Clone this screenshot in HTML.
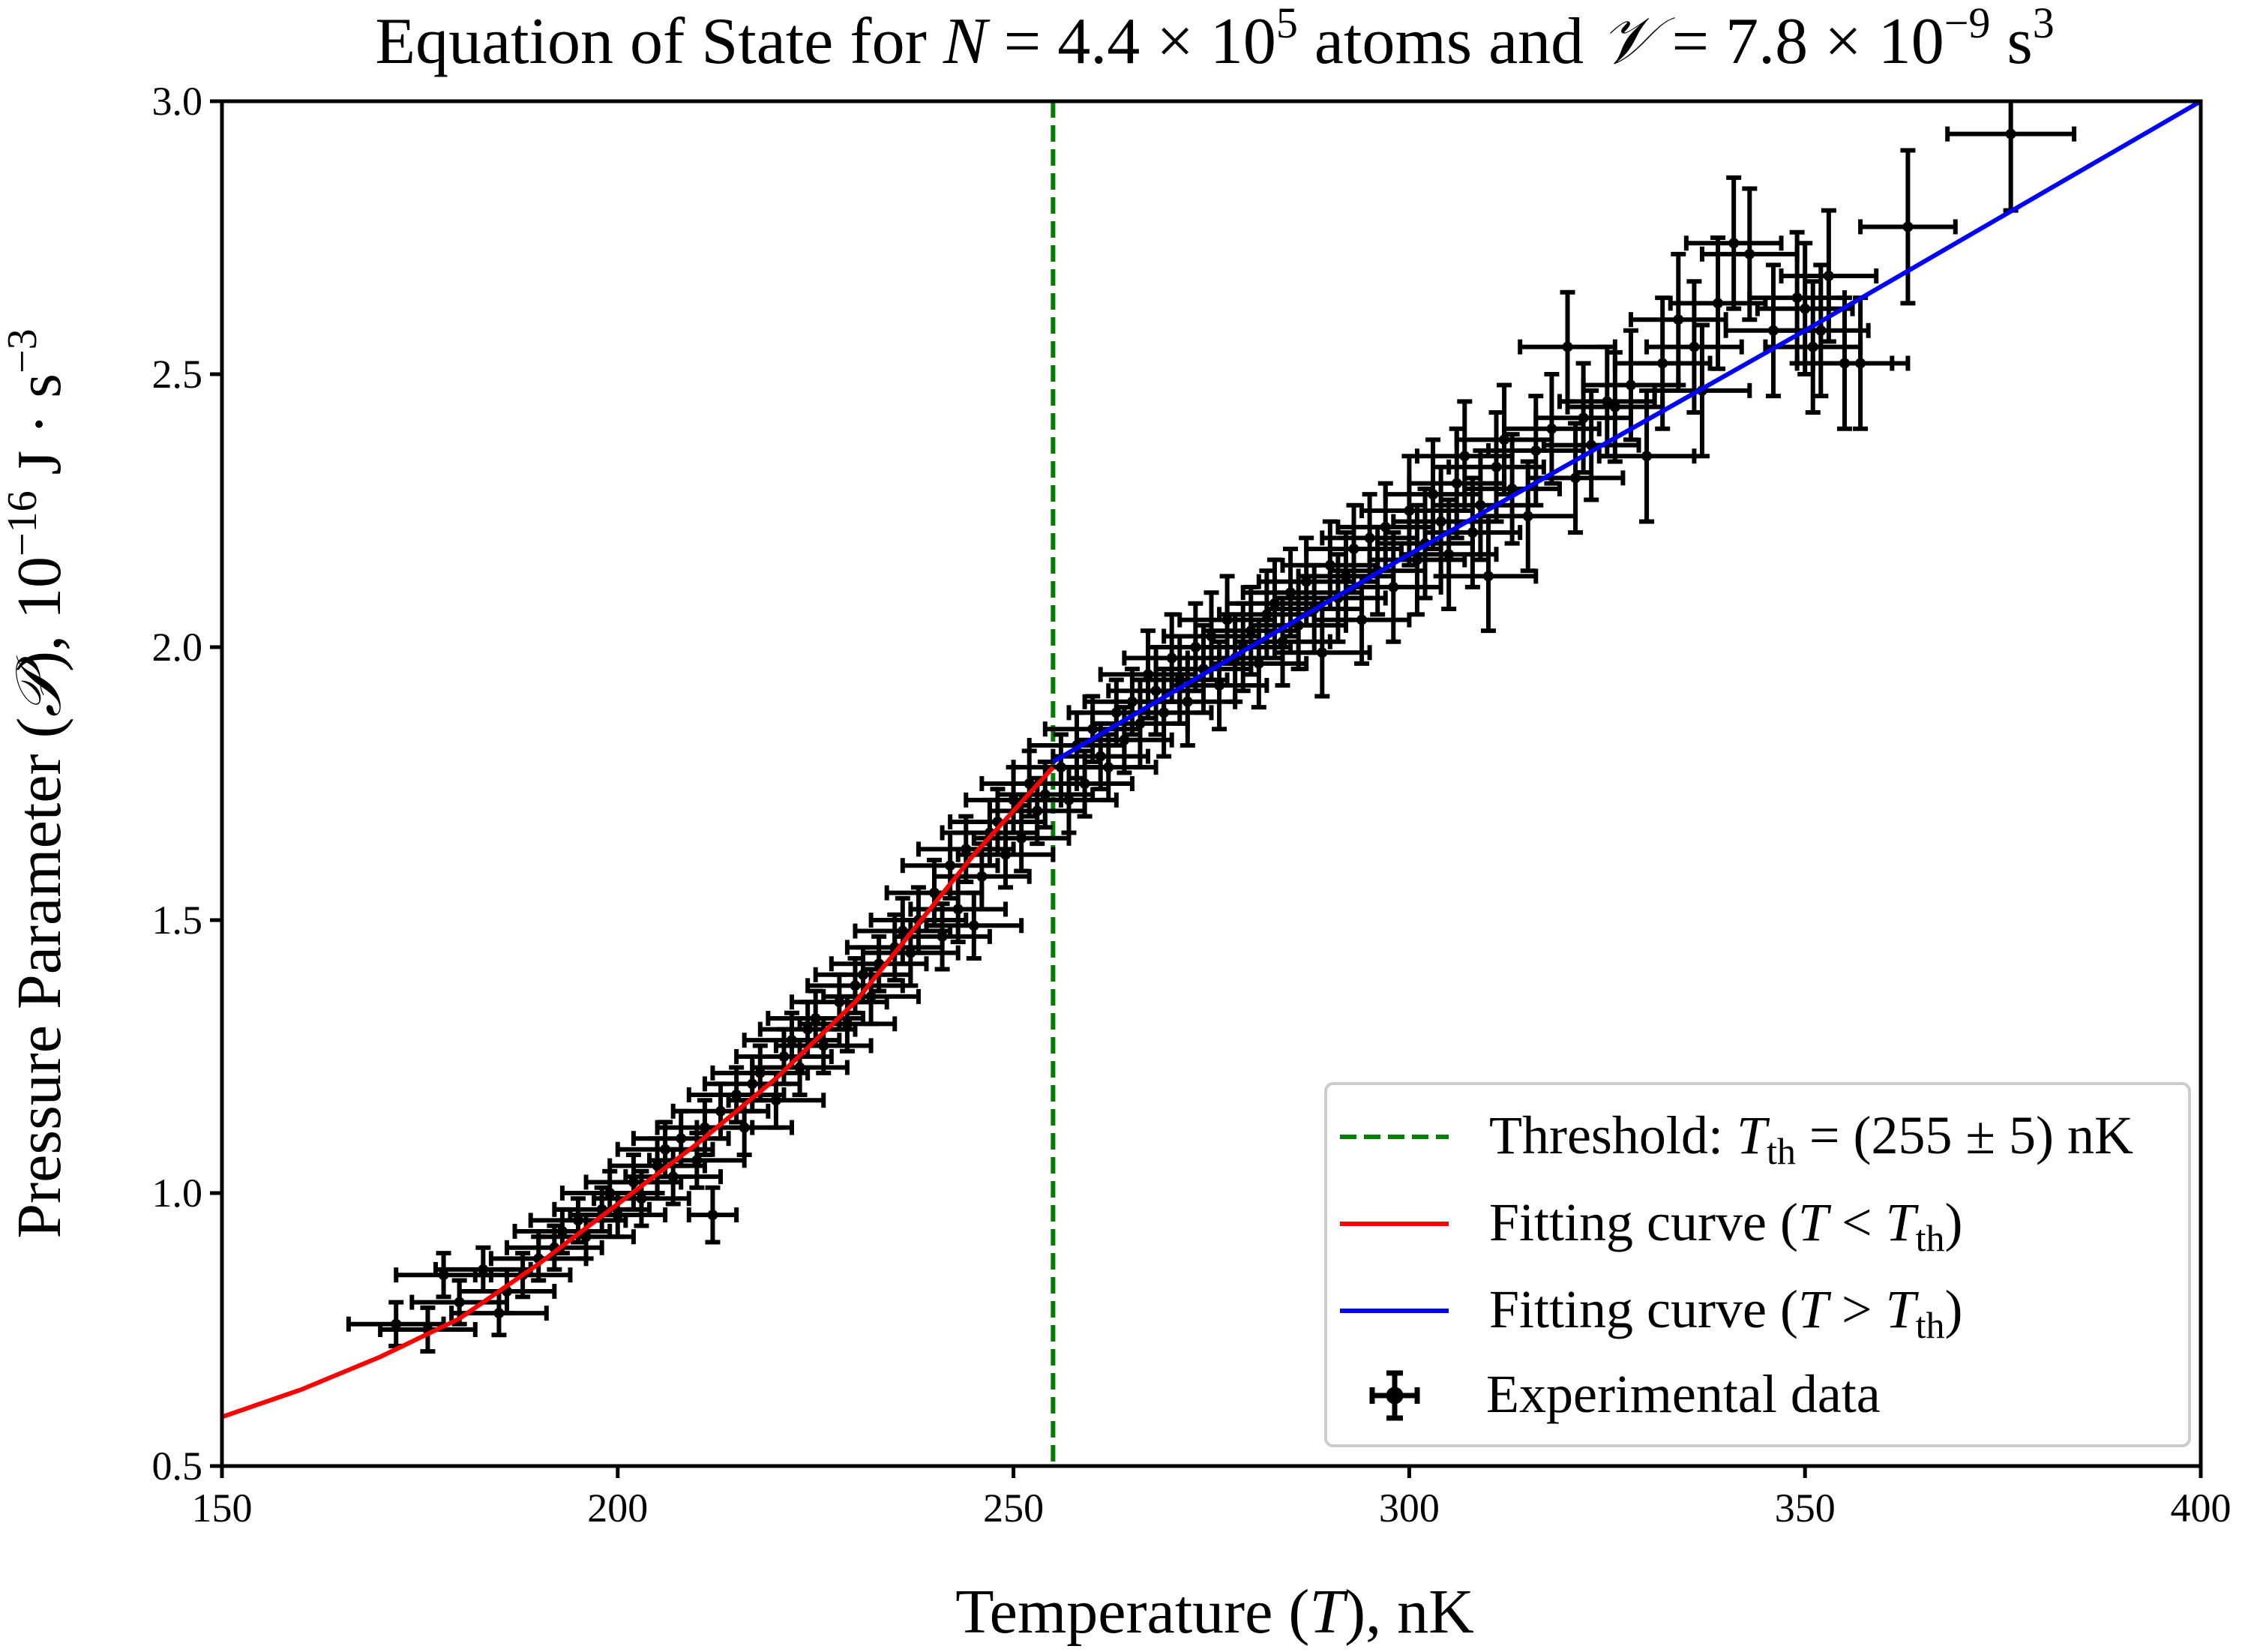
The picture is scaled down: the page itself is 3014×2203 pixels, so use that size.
<!DOCTYPE html>
<html><head><meta charset="utf-8"><style>
html,body{margin:0;padding:0;background:#fff}
svg{display:block;font-family:"Liberation Serif",serif}
</style></head><body>
<svg id="chart" width="3014" height="2203" viewBox="0 0 3014 2203">
<defs><clipPath id="clip"><rect x="296" y="135" width="2639" height="1820"/></clipPath></defs>
<g id="plot" clip-path="url(#clip)"></g>
</svg>
<script>
const xTicks=[150,200,250,300,350,400];
const yTicks=[0.5,1.0,1.5,2.0,2.5,3.0];
const yTickLabels=["0.5","1.0","1.5","2.0","2.5","3.0"];
const threshold=255;
const redT=[150,160,170,180,190,200,210,220,230,240,245,250,255];
const redP=[0.59,0.64,0.70,0.77,0.87,0.98,1.09,1.21,1.35,1.53,1.62,1.70,1.78];
const blueT=[255,300,350,400];
const blueP=[1.79,2.17,2.58,3.0];
const dataT=[172,176,178,180,183,185,186,188,190,192,
193,195,196,198,199,200,202,203,205,206,
207,208,210,211,212,213,215,216,217,218,
220,221,222,223,224,225,226,228,229,230,
231,232,233,235,236,237,238,240,241,242,
243,244,245,246,247,248,249,250,251,252,
253,254,
256,257,258,259,260,261,262,263,264,265,
266,267,268,269,270,271,272,273,274,275,
276,277,278,279,280,281,282,283,284,285,
286,287,288,289,290,291,292,293,294,295,
296,297,298,300,301,302,303,304,305,306,
307,308,309,310,311,312,313,315,316,318,
320,321,322,323,325,326,328,330,332,334,
336,337,339,341,343,346,349,350,351,352,
353,355,357,363,376];
const dataP=[0.76,0.75,0.85,0.80,0.86,0.78,0.82,0.85,0.88,0.90,
0.93,0.95,0.92,0.97,1.00,0.96,1.02,0.99,1.05,1.08,
1.03,1.10,1.06,1.12,0.96,1.15,1.18,1.12,1.20,1.22,
1.17,1.25,1.28,1.23,1.30,1.32,1.27,1.35,1.31,1.38,
1.40,1.36,1.42,1.45,1.48,1.44,1.50,1.55,1.47,1.60,
1.52,1.63,1.49,1.58,1.66,1.68,1.62,1.72,1.65,1.75,
1.70,1.73,
1.78,1.72,1.82,1.75,1.85,1.80,1.78,1.88,1.83,1.90,
1.86,1.95,1.92,1.88,1.98,1.94,1.90,2.00,1.96,2.02,
1.93,2.05,1.98,2.00,2.03,1.97,2.06,2.08,2.01,2.10,
2.04,2.12,2.07,1.99,2.15,2.09,2.13,2.18,2.05,2.20,
2.14,2.22,2.11,2.25,2.16,2.19,2.28,2.23,2.17,2.30,
2.35,2.21,2.26,2.13,2.33,2.38,2.29,2.24,2.36,2.40,
2.55,2.31,2.42,2.37,2.45,2.44,2.48,2.35,2.52,2.60,
2.55,2.47,2.63,2.74,2.72,2.58,2.64,2.62,2.55,2.58,
2.68,2.52,2.52,2.77,2.94];
const dataXErr=dataT.map(t=>t===212?3:(t>=370?8:6));
const dataYErr=dataT.map(t=>[0.04,0.05,0.06,0.08,0.1,0.12,0.14][Math.min(6,Math.floor((t-170)/32))]);

const L=296,R=2935,T0=135,B=1955;
const sx=v=>L+(v-150)/(400-150)*(R-L);
const sy=v=>B-(v-0.5)/(3.0-0.5)*(B-T0);
const NS="http://www.w3.org/2000/svg";
const svg=document.getElementById('chart');
const plot=document.getElementById('plot');
function mk(tag,attrs,parent){const e=document.createElementNS(NS,tag);for(const k in attrs)e.setAttribute(k,attrs[k]);(parent||svg).appendChild(e);return e;}

let th=mk('line',{x1:sx(threshold),x2:sx(threshold),y1:T0,y2:B,stroke:'#008000','stroke-width':6,'stroke-dasharray':'22,10'},plot);



const dg=mk('g',{stroke:'#000','stroke-width':6,fill:'#000'},plot);


dataT.forEach((t,i)=>{
 const g=mk('g',{},dg);
 
 
 const x=sx(t),y=sy(dataP[i]),x1=sx(t-dataXErr[i]),x2=sx(t+dataXErr[i]),y1=sy(dataP[i]+dataYErr[i]),y2=sy(dataP[i]-dataYErr[i]);
 mk('line',{x1:x1,x2:x2,y1:y,y2:y},g);
 mk('line',{x1:x,x2:x,y1:y1,y2:y2},g);
 mk('line',{x1:x1,x2:x1,y1:y-10,y2:y+10},g);
 mk('line',{x1:x2,x2:x2,y1:y-10,y2:y+10},g);
 mk('line',{x1:x-10,x2:x+10,y1:y1,y2:y1},g);
 mk('line',{x1:x-10,x2:x+10,y1:y2,y2:y2},g);
 mk('circle',{cx:x,cy:y,r:7,stroke:'none'},g);
});

function smooth(ts,ps){return ts.map((t,i)=>(i?'L':'M')+sx(t).toFixed(1)+','+sy(ps[i]).toFixed(1)).join(' ');}
let red=mk('path',{d:smooth(redT,redP),fill:'none',stroke:'#ff0000','stroke-width':6},plot);


let blue=mk('path',{d:smooth(blueT,blueP),fill:'none',stroke:'#0000ff','stroke-width':6},plot);



let fr=mk('rect',{x:L,y:T0,width:R-L,height:B-T0,fill:'none',stroke:'#000','stroke-width':5});



xTicks.forEach(v=>{
 const l=mk('line',{x1:sx(v),x2:sx(v),y1:B,y2:B+16,stroke:'#000','stroke-width':5});
 
 
 const t=mk('text',{x:sx(v),y:B+74,'font-size':54,'text-anchor':'middle'});
 t.textContent=v;
 
 
});
yTicks.forEach((v,i)=>{
 const l=mk('line',{x1:L-16,x2:L,y1:sy(v),y2:sy(v),stroke:'#000','stroke-width':5});
 
 
 const t=mk('text',{x:L-26,y:sy(v)+18,'font-size':54,'text-anchor':'end'});
 t.textContent=yTickLabels[i];
 
 
});
</script>
<svg style="position:absolute;left:0;top:0" width="3014" height="2203">
<text x="1620" y="84" font-size="88" text-anchor="middle" font-family="Liberation Serif,serif">Equation of State for <tspan font-style="italic">N</tspan> = 4.4 × 10<tspan font-size="58" dy="-34">5</tspan><tspan dy="34"> atoms and </tspan><tspan font-style="italic">𝒱</tspan> = 7.8 × 10<tspan font-size="58" dy="-34">−9</tspan><tspan dy="34"> s</tspan><tspan font-size="58" dy="-34">3</tspan></text>
<text x="1620" y="2177" font-size="84" text-anchor="middle" font-family="Liberation Serif,serif">Temperature (<tspan font-style="italic">T</tspan>), nK</text>
<text transform="translate(80,1045) rotate(-90)" font-size="84" text-anchor="middle" font-family="Liberation Serif,serif">Pressure Parameter (<tspan font-style="italic">𝒫</tspan>), 10<tspan font-size="56" dy="-32">−16</tspan><tspan dy="32"> J · s</tspan><tspan font-size="56" dy="-32">−3</tspan></text>
<g font-family="Liberation Serif,serif" font-size="72">
<rect x="1768" y="1445" width="1152" height="483" rx="10" fill="#fff" fill-opacity="0.85" stroke="#ccc" stroke-width="4"/>
<g><line x1="1787" y1="1516" x2="1932" y2="1516" stroke="#008000" stroke-width="6" stroke-dasharray="22,10"/><text x="1986" y="1538">Threshold: <tspan font-style="italic">T</tspan><tspan font-size="50" dy="14">th</tspan><tspan dy="-14"> = (255 ± 5) nK</tspan></text></g>
<g><line x1="1787" y1="1632" x2="1932" y2="1632" stroke="#ff0000" stroke-width="6"/><text x="1986" y="1654">Fitting curve (<tspan font-style="italic">T</tspan> &lt; <tspan font-style="italic">T</tspan><tspan font-size="50" dy="14">th</tspan><tspan dy="-14">)</tspan></text></g>
<g><line x1="1787" y1="1748" x2="1932" y2="1748" stroke="#0000ff" stroke-width="6"/><text x="1986" y="1770">Fitting curve (<tspan font-style="italic">T</tspan> &gt; <tspan font-style="italic">T</tspan><tspan font-size="50" dy="14">th</tspan><tspan dy="-14">)</tspan></text></g>
<g stroke="#000" stroke-width="7"><line x1="1830" y1="1861" x2="1890" y2="1861"/><line x1="1860" y1="1831" x2="1860" y2="1891"/><line x1="1830" y1="1850" x2="1830" y2="1872"/><line x1="1890" y1="1850" x2="1890" y2="1872"/><line x1="1849" y1="1831" x2="1871" y2="1831"/><line x1="1849" y1="1891" x2="1871" y2="1891"/><circle cx="1860" cy="1861" r="8" fill="#000"/><text x="1982" y="1883" stroke="none" fill="#000">Experimental data</text></g>
</g>
</svg>
</body></html>
